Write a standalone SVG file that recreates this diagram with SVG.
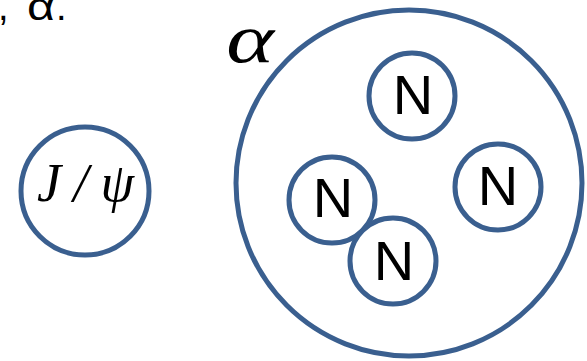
<svg xmlns="http://www.w3.org/2000/svg" width="587" height="361" viewBox="0 0 587 361">
<style>
.c{fill:#fff;stroke:#3A5F8F;stroke-width:5}
.n{font-family:"Liberation Sans",Arial,sans-serif;font-size:56px;fill:#000;text-anchor:middle}
.m{font-family:"Liberation Serif","Times New Roman",serif;font-style:italic;fill:#000}
.t{font-family:"Liberation Sans",Arial,sans-serif;font-size:38px;fill:#000}
</style>
<rect width="587" height="361" fill="#fff"/>
<text class="t" y="20"><tspan x="-2">,</tspan><tspan x="27" textLength="28" lengthAdjust="spacingAndGlyphs">α</tspan><tspan x="56">.</tspan></text>
<g id="alpha-label"><text class="m" transform="translate(250,62) scale(1.3,1)" x="0" y="0" font-size="70" text-anchor="middle">α</text></g>
<g id="jpsi">
<circle class="c" cx="85" cy="191" r="64"/>
<text class="m" x="37" y="201" font-size="54" textLength="97" lengthAdjust="spacing">J/ψ</text>
</g>
<g id="alpha">
<circle class="c" cx="409" cy="183" r="173"/>
</g>
<g id="n1"><circle class="c" cx="412" cy="96" r="43"/><text class="n" x="413" y="114">N</text></g>
<g id="n2"><circle class="c" cx="498" cy="187" r="43"/><text class="n" x="498" y="205">N</text></g>
<g id="n3"><circle class="c" cx="332" cy="200" r="43"/><text class="n" x="333" y="217">N</text></g>
<g id="n4"><circle class="c" cx="393" cy="261" r="43"/><text class="n" x="394" y="280">N</text></g>
<g id="connectors"/>
</svg>
